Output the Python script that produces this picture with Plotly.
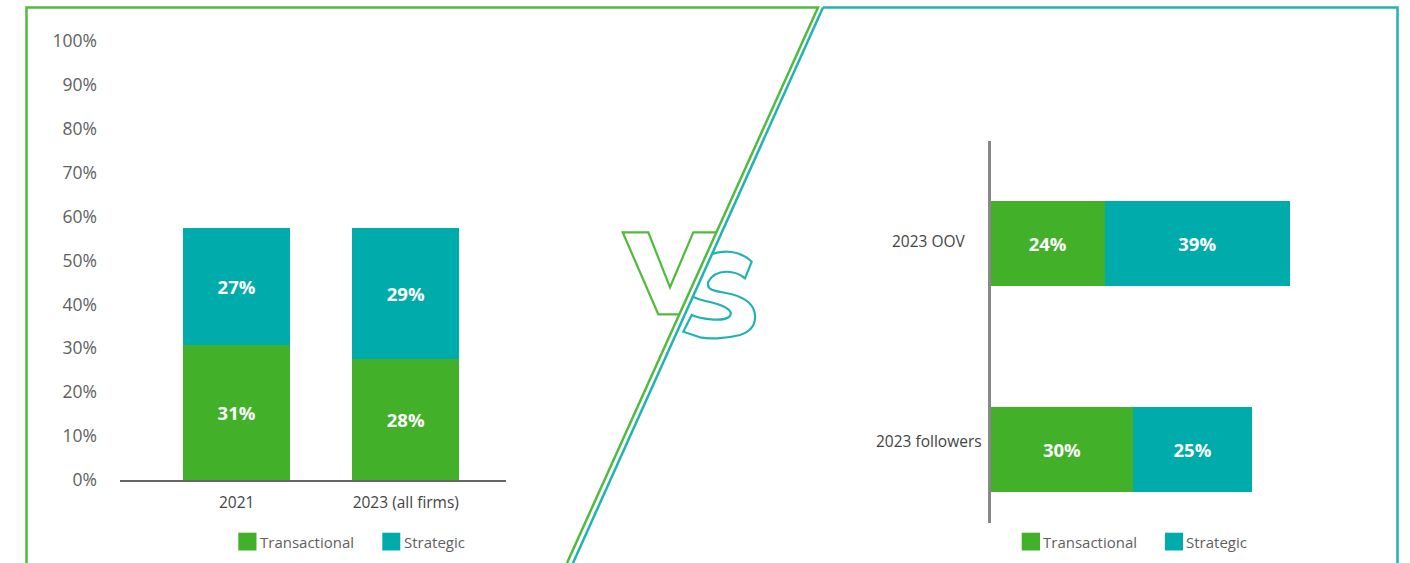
import plotly.graph_objects as go

# ---------------- data ----------------
left_categories = ["2021", "2023 (all firms)"]
left_transactional = [30.8, 27.6]
left_strategic = [26.5, 29.7]
left_trans_labels = ["31%", "28%"]
left_strat_labels = ["27%", "29%"]

right_categories = ["2023 OOV", "2023 followers"]
right_transactional = [24, 30]
right_strategic = [39, 25]
right_trans_labels = ["24%", "30%"]
right_strat_labels = ["39%", "25%"]

y_tick_values = list(range(0, 101, 10))
y_tick_labels = [f"{v}%" for v in y_tick_values]
series_names = ["Transactional", "Strategic"]

# ---------------- style ----------------
W, H = 1410, 563
GREEN = "#43B02A"
TEAL = "#00ABAB"
LINE_GREEN = "#52BA3C"
LINE_TEAL = "#22B2B2"
TXT = "#5f5f5f"
FONT = "Open Sans"


def px(x):
    return x / W


def py(y):
    return 1 - y / H


fig = go.Figure()

bar_text_font = dict(family=FONT, size=18.5, color="white", weight=700)

# left stacked columns
fig.add_trace(go.Bar(
    x=left_categories, y=left_transactional, name=series_names[0],
    marker=dict(color=GREEN, line=dict(width=0)), width=0.632,
    text=left_trans_labels, textposition="inside", insidetextanchor="middle",
    textangle=0, textfont=bar_text_font, xaxis="x", yaxis="y",
    showlegend=False, hoverinfo="skip"))
fig.add_trace(go.Bar(
    x=left_categories, y=left_strategic, name=series_names[1],
    marker=dict(color=TEAL, line=dict(width=0)), width=0.632,
    text=left_strat_labels, textposition="inside", insidetextanchor="middle",
    textangle=0, textfont=bar_text_font, xaxis="x", yaxis="y",
    showlegend=False, hoverinfo="skip"))

# right stacked bars
fig.add_trace(go.Bar(
    y=right_categories, x=right_transactional, orientation="h", name=series_names[0],
    marker=dict(color=GREEN, line=dict(width=0)), width=0.4126,
    text=right_trans_labels, textposition="inside", insidetextanchor="middle",
    textangle=0, textfont=bar_text_font, xaxis="x2", yaxis="y2",
    showlegend=False, hoverinfo="skip"))
fig.add_trace(go.Bar(
    y=right_categories, x=right_strategic, orientation="h", name=series_names[1],
    marker=dict(color=TEAL, line=dict(width=0)), width=0.4126,
    text=right_strat_labels, textposition="inside", insidetextanchor="middle",
    textangle=0, textfont=bar_text_font, xaxis="x2", yaxis="y2",
    showlegend=False, hoverinfo="skip"))

# empty helper trace for the decoration layer (pixel coordinates)
fig.add_trace(go.Scatter(x=[], y=[], xaxis="x3", yaxis="y3", showlegend=False,
                         hoverinfo="skip"))

shapes = []


def line_path(d, color, width=2.5):
    shapes.append(dict(type="path", path=d, xref="x3", yref="y3",
                       line=dict(color=color, width=width),
                       fillcolor="rgba(0,0,0,0)", layer="above"))


# frame lines
line_path("M26.5,563 L26.5,7.5 L818,7.5 L567,563", LINE_GREEN)
line_path("M823,7.5 L1397.5,7.5 L1397.5,563", LINE_TEAL)
line_path("M823,7.5 L573,563", LINE_TEAL)

# V outline (green)
line_path("M716.5,232.3 L693.3,232.3 L670,287.3 L648.3,232.3 L622.7,232.3 "
          "L658.3,314.3 L679.3,314.3", LINE_GREEN, 2.2)

# S outline (teal)
line_path("M711.5,254.3 C722,250 740,250 751.7,261.7 L745,278.3 "
          "C735,270 716,268 708.3,281.7 "
          "C706,290 714,291 726,293 "
          "C742,296 752,302 754.5,312 "
          "C757,324 752,331 740,335 "
          "C725,339 708,339 700,337.3 "
          "L683.3,331.7 L691.7,315 "
          "C700,319 722,322 729,317 "
          "C735,311 725,306 712,302.5 "
          "C703,300.5 697,299 692.9,296.7", LINE_TEAL, 2.2)

annotations = []

# legends
for (x0, x1, tx), color, name in [((238.3, 256.5, 258), GREEN, series_names[0]),
                                  ((382.3, 400.3, 401.5), TEAL, series_names[1]),
                                  ((1021.7, 1040, 1040.5), GREEN, series_names[0]),
                                  ((1165, 1183, 1184), TEAL, series_names[1])]:
    shapes.append(dict(type="rect", xref="x3", yref="y3", x0=x0, x1=x1,
                       y0=532.7, y1=550.5, fillcolor=color, line=dict(width=0),
                       layer="above"))
    annotations.append(dict(xref="x3", yref="y3", x=tx, y=541.5, text=name,
                            showarrow=False, xanchor="left", yanchor="middle",
                            font=dict(family=FONT, size=15, color=TXT)))

# right category labels (centre aligned)
for cat, shift in zip(right_categories, [3, 9]):
    annotations.append(dict(xref="x3", yref="y2", x=928.5, y=cat, yshift=shift,
                            text=cat, showarrow=False, xanchor="center",
                            yanchor="middle", align="center",
                            font=dict(family=FONT, size=15.5, color="#444444")))

fig.update_layout(
    width=W, height=H,
    margin=dict(l=0, r=0, t=0, b=0, autoexpand=False),
    paper_bgcolor="white", plot_bgcolor="rgba(0,0,0,0)",
    barmode="stack",
    font=dict(family=FONT, color=TXT),
    showlegend=False,
    shapes=shapes,
    annotations=annotations,
    xaxis=dict(domain=[px(120), px(506)], range=[-0.690, 1.5926], anchor="y",
               showline=True, linecolor="#666666", linewidth=1.5, ticks="",
               showgrid=False, zeroline=False, fixedrange=True, automargin=False,
               tickfont=dict(family=FONT, size=15.5, color="#444444"),
               ticklabelstandoff=8),
    yaxis=dict(domain=[py(480), py(41)], range=[0, 100], anchor="x",
               tickvals=y_tick_values, ticktext=y_tick_labels, ticks="",
               showgrid=False, zeroline=False, showline=False, fixedrange=True,
               automargin=False,
               tickfont=dict(family=FONT, size=17.5, color=TXT),
               ticklabelstandoff=22),
    xaxis2=dict(domain=[px(990.7), px(1390)], range=[0, 84.06], anchor="y2",
                visible=False, fixedrange=True, automargin=False),
    yaxis2=dict(domain=[py(523), py(141)], range=[1.3568, -0.4976], anchor="x2",
                showline=True, linecolor="#888888", linewidth=2.5, ticks="",
                showticklabels=False, showgrid=False, zeroline=False,
                fixedrange=True, automargin=False),
    xaxis3=dict(domain=[0, 1], range=[0, W], anchor="y3", visible=False,
                fixedrange=True, automargin=False),
    yaxis3=dict(domain=[0, 1], range=[H, 0], anchor="x3", visible=False,
                fixedrange=True, automargin=False),
)

fig.write_html("out.html")
